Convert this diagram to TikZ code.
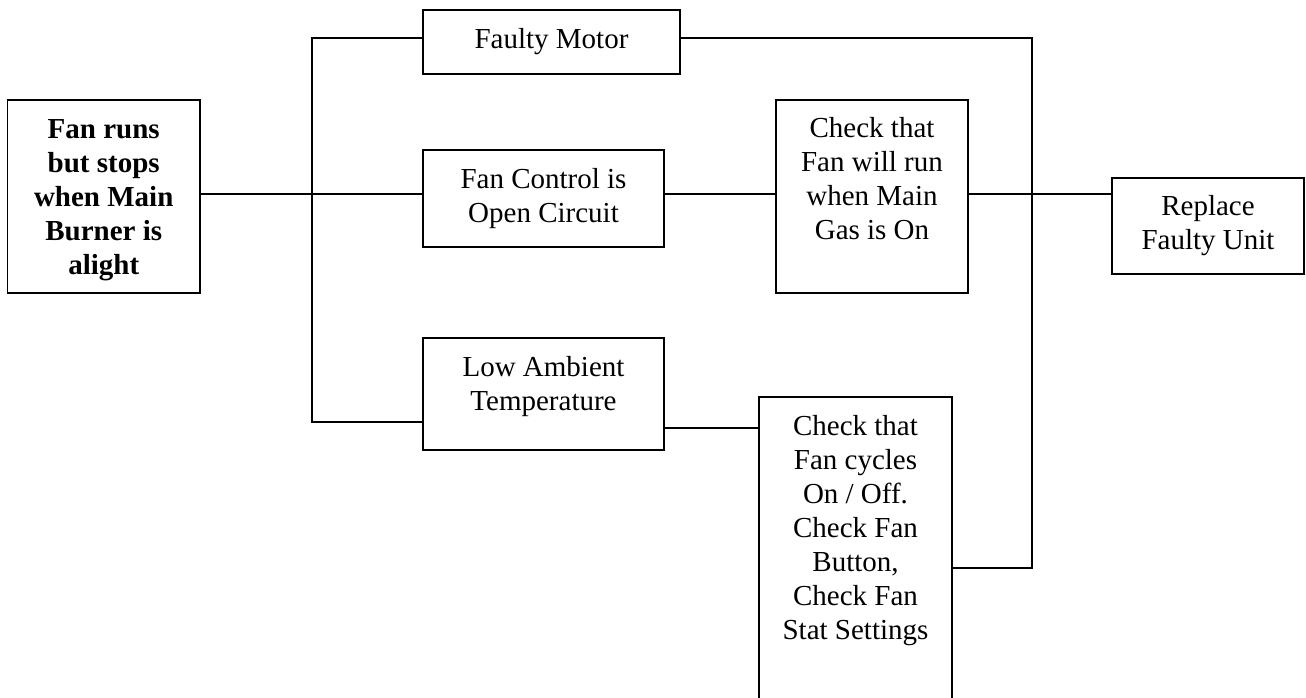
\documentclass[tikz,border=0pt]{standalone}
\usepackage{fontspec}
\setmainfont{Liberation Serif}
\begin{document}
\begin{tikzpicture}[x=1pt,y=-1pt,
  box/.style={draw, line width=1.8pt, inner sep=0pt, align=center, font=\fontsize{29}{34}\selectfont},
  txt/.style={inner sep=0pt, align=center, anchor=north, font=\fontsize{29}{34}\selectfont},
  conn/.style={line width=1.4pt}]
\useasboundingbox (0,0) rectangle (1306,697);
% boxes
\node[box, minimum width=192.5pt, minimum height=193pt] (A) at (103.75,196.5) {};
\node[txt, font=\fontsize{29}{34}\selectfont\bfseries] (At) at (103.75,119) {Fan runs\\but stops\\when Main\\Burner is\\alight};
\node[box, minimum width=257pt, minimum height=64pt] (fm) at (551.5,42) {Faulty Motor};
\node[box, minimum width=241pt, minimum height=97pt] (fc) at (543.5,198.5) {Fan Control is\\Open Circuit};
\node[box, minimum width=192pt, minimum height=193pt] (cw) at (872,196.5) {};
\node[txt] (cwt) at (872,117) {Check that\\Fan will run\\when Main\\Gas is On};
\node[box, minimum width=192pt, minimum height=96pt] (rf) at (1208,226) {Replace\\Faulty Unit};
\node[box, minimum width=241pt, minimum height=112pt] (la) at (543.5,394) {};
\node[txt] (lat) at (543.5,356) {Low Ambient\\Temperature};
\node[box, minimum width=193pt, minimum height=313pt] (cc) at (855.5,553.5) {};
\node[txt] (cct) at (855.5,415) {Check that\\Fan cycles\\On / Off.\\Check Fan\\Button,\\Check Fan\\Stat Settings};
% junction coordinates
\coordinate (t1) at (312,38);
\coordinate (t2) at (312,422);
\coordinate (j) at (312,194);
\coordinate (r1) at (1032,38);
\coordinate (r2) at (1032,568);
\coordinate (k) at (710,428);
% connectors
\draw[conn] (fm.west |- t1) -- (t1) -- (t2) -- (la.west |- t2);
\draw[conn] (A.east |- j) -- (fc.west |- j);
\draw[conn] (fc.east |- j) -- (cw.west |- j);
\draw[conn] (cw.east |- j) -- (rf.west |- j);
\draw[conn] (fm.east |- r1) -- (r1) -- (r2) -- (cc.east |- r2);
\draw[conn] (la.east |- k) -- (cc.west |- k);
\end{tikzpicture}
\end{document}
